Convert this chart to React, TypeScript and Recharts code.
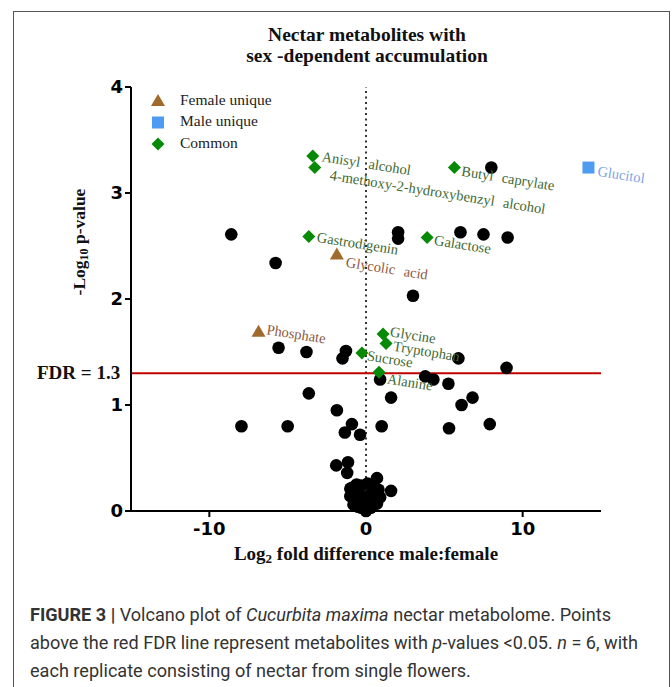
import React from "react";
import { ScatterChart, Scatter, XAxis, YAxis, ReferenceLine } from "recharts";

// axis ticks and threshold
const xTicks = [-10, 0, 10];
const yTicks = [0, 1, 2, 3, 4];
const fdrThreshold = 1.3;

// labelled metabolites (log2 fold, -log10 p)
const femaleUnique = [
  { name: "Glycolic acid", fold: -1.86, logP: 2.42 },
  { name: "Phosphate", fold: -6.86, logP: 1.69 },
];

const maleUnique = [{ name: "Glucitol", fold: 14.2, logP: 3.24 }];

const common = [
  { name: "Anisyl alcohol", fold: -3.4, logP: 3.35 },
  { name: "4-methoxy-2-hydroxybenzyl alcohol", fold: -3.27, logP: 3.24 },
  { name: "Butyl caprylate", fold: 5.64, logP: 3.24 },
  { name: "Gastrodigenin", fold: -3.65, logP: 2.59 },
  { name: "Galactose", fold: 3.9, logP: 2.58 },
  { name: "Glycine", fold: 1.09, logP: 1.67 },
  { name: "Tryptophan", fold: 1.28, logP: 1.58 },
  { name: "Sucrose", fold: -0.26, logP: 1.49 },
  { name: "Alanine", fold: 0.83, logP: 1.31 },
];

// unlabelled metabolites
const otherMetabolites = [
  { fold: -8.6, logP: 2.61 },
  { fold: -5.77, logP: 2.34 },
  { fold: 2.05, logP: 2.63 },
  { fold: 2.05, logP: 2.57 },
  { fold: 8.0, logP: 3.24 },
  { fold: 6.03, logP: 2.63 },
  { fold: 7.5, logP: 2.61 },
  { fold: 9.04, logP: 2.58 },
  { fold: 3.0, logP: 2.03 },
  { fold: -5.58, logP: 1.54 },
  { fold: -3.8, logP: 1.5 },
  { fold: -1.28, logP: 1.51 },
  { fold: -1.5, logP: 1.44 },
  { fold: 5.9, logP: 1.44 },
  { fold: 8.97, logP: 1.35 },
  { fold: 0.9, logP: 1.24 },
  { fold: 3.78, logP: 1.27 },
  { fold: 4.3, logP: 1.24 },
  { fold: 5.26, logP: 1.2 },
  { fold: -3.65, logP: 1.11 },
  { fold: 1.6, logP: 1.07 },
  { fold: 6.8, logP: 1.07 },
  { fold: 6.1, logP: 1.0 },
  { fold: -1.86, logP: 0.95 },
  { fold: -7.95, logP: 0.8 },
  { fold: -5.0, logP: 0.8 },
  { fold: -0.9, logP: 0.82 },
  { fold: -1.35, logP: 0.74 },
  { fold: -0.38, logP: 0.72 },
  { fold: 1.0, logP: 0.8 },
  { fold: 5.3, logP: 0.78 },
  { fold: 7.9, logP: 0.82 },
  { fold: -1.9, logP: 0.43 },
  { fold: -1.15, logP: 0.46 },
  { fold: -1.2, logP: 0.36 },
  { fold: 0.7, logP: 0.31 },
  { fold: 1.6, logP: 0.19 },
  { fold: -1.0, logP: 0.21 },
  { fold: -0.9, logP: 0.22 },
  { fold: -0.6, logP: 0.25 },
  { fold: -0.3, logP: 0.24 },
  { fold: 0.1, logP: 0.26 },
  { fold: 0.5, logP: 0.22 },
  { fold: 0.8, logP: 0.2 },
  { fold: -1.0, logP: 0.14 },
  { fold: -0.7, logP: 0.12 },
  { fold: -0.4, logP: 0.15 },
  { fold: -0.1, logP: 0.12 },
  { fold: 0.2, logP: 0.15 },
  { fold: 0.5, logP: 0.12 },
  { fold: 0.9, logP: 0.13 },
  { fold: -0.8, logP: 0.06 },
  { fold: -0.5, logP: 0.04 },
  { fold: -0.2, logP: 0.07 },
  { fold: 0.1, logP: 0.05 },
  { fold: 0.4, logP: 0.06 },
  { fold: 0.7, logP: 0.07 },
  { fold: -0.3, logP: 0.03 },
  { fold: 0.0, logP: 0.0 },
  { fold: 0.3, logP: 0.03 },
];

// label offsets from the marker, in px
const labelNudge: Record<string, [number, number]> = {
  "Anisyl alcohol": [9, 2],
  "4-methoxy-2-hydroxybenzyl alcohol": [15, 9],
  "Butyl caprylate": [7, 5],
  Glucitol: [9, 5],
  Gastrodigenin: [8, 2],
  "Glycolic acid": [9, 9],
  Galactose: [7, 4],
  Phosphate: [8, -1],
  Glycine: [7, -1],
  Tryptophan: [7, 4],
  Sucrose: [5, 4],
  Alanine: [8, 8],
};

const SERIF = "'Liberation Serif', 'Times New Roman', serif";
const SANS = "'DejaVu Sans', Verdana, sans-serif";

const BROWN = "#a06a2c";
const BLUE = "#4d9cf2";
const GREEN = "#078a07";

const marker = (kind: string, cx: number, cy: number) => {
  if (kind === "triangle")
    return <polygon points={`${cx},${cy - 7} ${cx - 7},${cy + 5} ${cx + 7},${cy + 5}`} fill={BROWN} />;
  if (kind === "square") return <rect x={cx - 6} y={cy - 6} width={12} height={12} fill={BLUE} />;
  return <polygon points={`${cx},${cy - 6.5} ${cx + 6.5},${cy} ${cx},${cy + 6.5} ${cx - 6.5},${cy}`} fill={GREEN} />;
};

const labelled = (kind: string, textColor: string) => (props: any) => {
  const { cx, cy, payload } = props;
  const [dx, dy] = labelNudge[payload.name] ?? [8, 4];
  const tx = cx + dx;
  const ty = cy + dy;
  return (
    <g>
      {marker(kind, cx, cy)}
      <text
        x={tx}
        y={ty}
        transform={`rotate(9 ${tx} ${ty})`}
        fontFamily={SERIF}
        fontSize={14.5}
        wordSpacing={5}
        fill={textColor}
        dominantBaseline="middle"
      >
        {payload.name}
      </text>
    </g>
  );
};

const renderDot = (props: any) => <circle cx={props.cx} cy={props.cy} r={6.3} fill="#000" />;

const legendItems = [
  { kind: "triangle", label: "Female unique" },
  { kind: "square", label: "Male unique" },
  { kind: "diamond", label: "Common" },
];

const axisStroke = { stroke: "#000", strokeWidth: 2 };
const tickFont = { fill: "#000", fontSize: 18, fontWeight: "bold", fontFamily: SANS };

export default function App() {
  return (
    <div style={{ position: "absolute", left: 0, top: 0, width: 672, height: 687, overflow: "hidden", background: "#fff" }}>
      <div
        style={{
          position: "absolute",
          left: 13,
          top: 11,
          width: 657,
          height: 700,
          border: "1px solid #555",
          boxSizing: "border-box",
        }}
      />
      <div style={{ position: "absolute", left: 0, top: 0 }}>
        <ScatterChart width={672} height={600} margin={{ top: 87, right: 71, bottom: 59, left: 91 }}>
          <XAxis
            type="number"
            dataKey="fold"
            domain={[-15, 15]}
            ticks={xTicks}
            height={30}
            axisLine={axisStroke}
            tickLine={axisStroke}
            tickSize={6}
            tickMargin={5}
            tick={tickFont}
          />
          <YAxis
            type="number"
            dataKey="logP"
            domain={[0, 4]}
            ticks={yTicks}
            width={40}
            axisLine={axisStroke}
            tickLine={axisStroke}
            tickSize={6}
            tickMargin={2}
            tick={tickFont}
          />
          <ReferenceLine x={0} stroke="#333" strokeWidth={2} strokeDasharray="2 3.5" />
          <ReferenceLine y={fdrThreshold} stroke="#c00000" strokeWidth={2} />
          <Scatter data={otherMetabolites} shape={renderDot} isAnimationActive={false} />
          <Scatter data={femaleUnique} shape={labelled("triangle", "#8c5a3e")} isAnimationActive={false} />
          <Scatter data={maleUnique} shape={labelled("square", "#7ea5e2")} isAnimationActive={false} />
          <Scatter data={common} shape={labelled("diamond", "#3f6a33")} isAnimationActive={false} />
        </ScatterChart>
      </div>
      <svg width={672} height={600} style={{ position: "absolute", left: 0, top: 0, pointerEvents: "none" }}>
        <text x={367} y={37} textAnchor="middle" dominantBaseline="middle" fontFamily={SERIF} fontWeight="bold" fontSize={19.5} fill="#111">
          Nectar metabolites with
        </text>
        <text x={367} y={58} textAnchor="middle" dominantBaseline="middle" fontFamily={SERIF} fontWeight="bold" fontSize={19.5} fill="#111">
          sex -dependent accumulation
        </text>
        {legendItems.map((it, i) => (
          <g key={it.label}>
            {marker(it.kind, 158, 101 + i * 21.5)}
            <text x={180} y={101 + i * 21.5} dominantBaseline="middle" fontFamily={SERIF} fontSize={15.5} fill="#222">
              {it.label}
            </text>
          </g>
        ))}
        <text x={37} y={375} dominantBaseline="middle" fontFamily={SERIF} fontWeight="bold" fontSize={19} fill="#111">
          FDR = 1.3
        </text>
        <text
          x={81}
          y={242}
          transform="rotate(-90 81 242)"
          textAnchor="middle"
          dominantBaseline="middle"
          fontFamily={SERIF}
          fontWeight="bold"
          fontSize={17.5}
          fill="#111"
        >
          -Log
          <tspan fontSize={12} dy={4}>10</tspan>
          <tspan dy={-4}> p-value</tspan>
        </text>
        <text x={366} y={556} textAnchor="middle" dominantBaseline="middle" fontFamily={SERIF} fontWeight="bold" fontSize={19} fill="#111">
          Log
          <tspan fontSize={13} dy={4}>2</tspan>
          <tspan dy={-4}> fold difference male:female</tspan>
        </text>
      </svg>
      <div
        style={{
          position: "absolute",
          left: 30,
          top: 601,
          width: 636,
          fontFamily: "Roboto, 'Liberation Sans', sans-serif",
          fontSize: 18.1,
          lineHeight: "28px",
          color: "#333",
          whiteSpace: "nowrap",
        }}
      >
        <b>FIGURE 3 |</b> Volcano plot of <i>Cucurbita maxima</i> nectar metabolome. Points
        <br />
        above the red FDR line represent metabolites with <i>p</i>-values &lt;0.05. <i>n</i> = 6, with
        <br />
        each replicate consisting of nectar from single flowers.
      </div>
    </div>
  );
}
